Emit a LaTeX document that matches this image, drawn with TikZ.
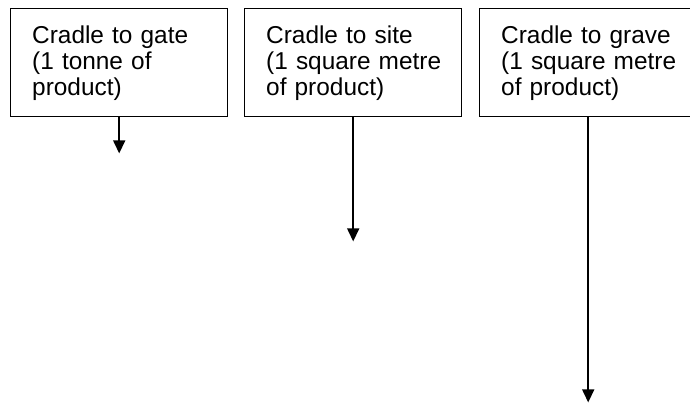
\documentclass[tikz,border=0pt]{standalone}
\usepackage{fontspec}
\setmainfont{Liberation Sans}
\usetikzlibrary{positioning,arrows.meta}
\hyphenpenalty=10000
\tikzset{
	stage/.style={shape=rectangle, draw=black, line width=1.4pt, minimum width=217pt, minimum height=108pt, text width=174pt, inner xsep=21.5pt, align=left, font=\fontsize{24.4pt}{26pt}\selectfont},
	flow/.style={line width=1.6pt, -{Triangle[width=12pt,length=13pt]}}
}
\begin{document}
\begin{tikzpicture}[x=1pt,y=-1pt]
	\useasboundingbox (0,0) rectangle (690,402);
	\draw (10,8) node[stage, anchor=north west](gate){Cradle to gate\\(1 tonne of\\product)};
	\draw node[stage, right=15.6pt of gate](site){Cradle to site\\\mbox{(1 square metre}\\of product)};
	\draw node[stage, right=16.6pt of site](grave){Cradle to grave\\\mbox{(1 square metre}\\of product)};
	
	\coordinate[below=36pt of gate] (gateend);
	\coordinate[below=124pt of site] (siteend);
	\coordinate[below=285pt of grave] (graveend);
	
	\draw[flow] (gate) -- (gateend);
	\draw[flow] (site) -- (siteend);
	\draw[flow] (grave) -- (graveend);
\end{tikzpicture}
\end{document}
